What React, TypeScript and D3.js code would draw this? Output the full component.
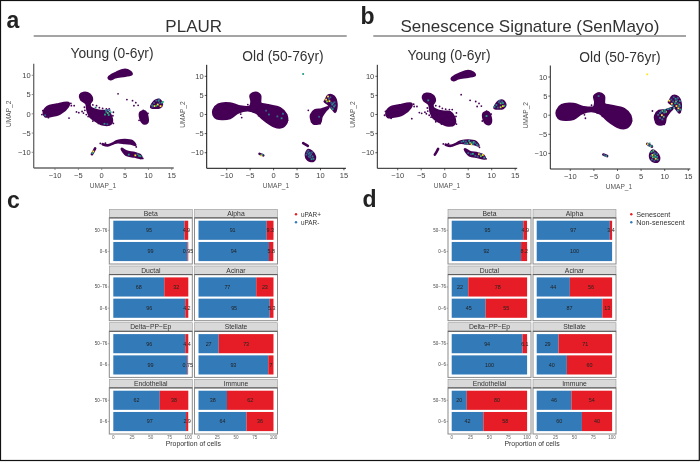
import React from "react";
import * as d3 from "d3";

type P = [number, number];
type C = [number, number, number];

// ---------- UMAP cluster outlines (UMAP_1, UMAP_2) ----------
const youngBlobs: P[][] = [
  [[1.5,9.4],[2.2,10.1],[3.2,10.7],[5,11.4],[6,11],[6.4,10.3],[5,9.9],[2.9,9.5],[1.9,9]],
  [[-12.4,0.2],[-11.7,1.7],[-9.6,2.4],[-7.1,2.8],[-7.3,1.8],[-8.9,0.1],[-11.1,-0.6],[-12.1,-0.6]],
  [[-4.6,4.8],[-3.9,5.4],[-2.6,5],[-2.1,3.6],[-2.6,2.6],[-2.4,1.6],[-1.4,1],[0,0.7],[1.1,0.6],[2,-0.7],[2,-2.5],[0.4,-2.8],[-1.3,-1.8],[-2.4,-0.8],[-2.9,0.4],[-3.1,1.4],[-3.3,2.7],[-4.4,3.7]],
  [[8.3,0.3],[9.2,0.6],[9.8,-1],[9.7,-2.3],[8.9,-2.4],[8.3,-1.2]],
  [[10.6,1.7],[11.4,3.3],[12.3,3.6],[12.9,2.5],[12.4,1.7],[11,1.6]],
  [[2.7,-7.5],[3.6,-7],[5,-6.8],[6.5,-7.1],[7.2,-8.1],[6.2,-7.7],[5,-7.6],[3.5,-7.4]],
  [[4.3,-9.1],[5.3,-9.8],[7,-10.2],[8.2,-10.7],[8.5,-11.5],[7,-11.1],[5.3,-10.7]],
];
const youngTrails: P[][] = [
  [[0.2,-7.9],[1.3,-8.2],[2.4,-7.7],[3.2,-7.3]],
  [[-2.1,-10.5],[-1.7,-9.7],[-1.4,-9]],
];
const youngStrays: P[] = [
  [3.5,5.2],[5.4,3.7],[6.6,3.4],[7.3,2.9],[6.9,2.1],[7.8,2.2],[-5.9,2.1],[-6.5,2.1],[-7,-1.1],[-4.9,0.3],[-3.9,0.2],[-5.4,0.5],
  [-3.7,1.7],[-1.9,2.3],[-1.1,2.1],[0.2,1.4],[2.4,-0.5],[2.5,-2.5],[-0.9,0.9],[-3.2,2.5],[8.9,0.9],
  [-3.6,0.9],[-4.2,0.6],[-3.3,-0.2],[-2.9,-0.7],[-1.9,-1.9],[-0.7,-2.5],[1.6,1.3],[2.5,0.4],[-2,1.3],[-0.5,1.6],[1,1.3],
  [-12.8,-0.2],[-12.6,0.8],[-11.4,-1],[-6.6,2.7],[9.9,0.1],[8,-1.7],[7.4,-8.6],[0.8,-7.6],[-0.3,-7.7],[8.8,-11.6],
];
const oldBlobs: P[][] = [
  [[-12.8,1.2],[-11.8,2.6],[-9.3,2.9],[-7.2,2.1],[-5,2.1],[-4.7,3.4],[-4.9,5],[-3.8,5.7],[-2.9,5],[-2.8,2.9],[-1.5,2.5],[1.4,1.6],[2.7,-0.1],[2.8,-1.9],[1.7,-3.3],[0,-3],[-2.2,-1.2],[-3.6,0.4],[-5.5,1.1],[-7.6,0.5],[-9.3,-0.9],[-12.1,-1],[-12.8,-0.1]],
  [[8,-0.1],[8.8,1.1],[10.2,1.3],[11.7,1.9],[11,0.9],[10.2,-0.6],[9.9,-2.1],[8.5,-2.3],[8,-1]],
  [[11,3.5],[11.7,5],[12.8,4.7],[13.4,2.7],[13.1,0.7],[12.7,1.3],[11.7,2.7],[10.9,3.4]],
  [[6.9,-10.6],[7.4,-9.3],[8.1,-9.7],[8.8,-11],[8.5,-12.1],[7.4,-11.9]],
];
const oldTrails: P[][] = [
  [[6.3,-7.5],[7.3,-8.2]],
  [[-3,-10.3],[-2.2,-10.7]],
];
const oldStrays: P[] = [[-6.8,-0.8],[-7,0.1],[-3.6,1.5],[-5.5,2.6],[-2.4,1.5],[3,-1.5],[-1.8,-0.1],[-4.3,0.6],[-3.2,-0.3],[-0.8,-2.2],[8.1,-1.9],[9.9,-2.4],[7.4,1.1]];

// ---------- expression-coloured cells (UMAP_1, UMAP_2, scaled expression) ----------
const plaurYoung: C[] = [
  [10.8,2.2,0.45],[11.2,2.8,0.3],[11.3,2,1],[11.7,3.4,0.3],[12,2.4,1],[12.2,3.4,0.6],[12.4,2.8,0.3],[12.6,2,1],[12.9,2.9,0.6],[13.1,3.1,0.65],[11.7,2.1,0.6],[12.3,3.7,0.3],[10.9,1.9,0.3],
  [1,0.5,0.5],[1.3,1,0.3],[1.5,-0.3,0.6],[1.9,0.4,0.55],[0.7,-0.2,0.6],[1.7,0.9,0.3],[-1.3,1.6,0.4],[0.6,-2.6,0.5],[1.2,-2.7,0.3],[-12.1,-0.4,0.35],[0.9,0.9,0.4],[1.3,0.2,0.7],
  [7.2,-10.8,1],[8,-10.9,0.6],[8.3,-11,0.55],[5.8,-10.6,0.55],[7.7,-10.5,0.35],[-1.8,-9.8,1],[-2,-10.2,0.6],
];
const plaurOld: C[] = [
  [6.3,10.6,0.55],[-2.6,-10.7,1],[-2.4,-10.5,0.55],
  [11.6,4.7,1],[11.2,3.9,1],[11.9,3.5,1],[11.4,3.4,0.8],[12.1,4.5,0.3],[12.5,2.6,0.5],[12.9,2.1,0.55],[12.3,1.8,0.35],[13,3.2,0.3],[11.8,4.1,0.3],[12.6,1.4,0.55],[12.3,3.1,0.3],[12.7,2.9,0.4],[13.1,2.4,0.3],
  [7.4,-9.5,0.3],[7.7,-10,0.4],[8,-10.4,0.3],[7.5,-11,0.35],[8.3,-11,0.5],[8.1,-11.7,0.5],[7.8,-11.2,0.3],[7,-10.5,0.35],[8.5,-11.6,0.45],[7.5,-10.3,0.4],[8.2,-9.9,0.3],[7.2,-9.9,0.3],[7.8,-10.7,0.35],
  [-1,0,0.4],[1.7,-1,0.5],[2,0.2,0.4],[0.8,-0.5,0.35],[-1.6,1,0.3],[9.7,-0.6,0.3],
];
const senYoung: C[] = [
  [-3.5,3.7,0.5],[8.9,-0.4,0.6],
  [10.6,2,0.45],[11,2.5,0.5],[11.5,3.2,0.3],[11.9,2.9,0.7],[12.2,3.4,0.3],[12.4,2.2,1],[12.7,2.3,0.6],[11.9,1.9,0.9],[11.3,1.8,0.3],[12.4,3,0.55],[11.7,3.6,0.3],
  [3.6,-7.2,0.3],[4,-7,0.55],[4.5,-7.1,0.3],[4.8,-7.6,0.6],[5.2,-6.9,0.55],[5.4,-7.4,0.75],[5.8,-7.3,0.3],[6.2,-7.2,0.65],[6.5,-7.5,0.3],[6.9,-7.9,0.6],[7,-8.1,0.3],[5.7,-7.8,1],[4.3,-7.6,0.3],[6,-7.7,0.45],
  [5,-10.1,0.3],[6,-10.3,0.6],[6.5,-10.8,0.3],[7.3,-10.4,1],[7.7,-10.9,0.75],[8.1,-10.6,1],[8.4,-11.3,0.55],[7,-11,0.3],[7.6,-10.4,0.3],[5.6,-10.4,0.3],
];
const senOld: C[] = [
  [6.3,10.7,1],[-2.4,-10.7,0.6],[-2.8,-10.4,0.3],[-4,5,0.4],
  [11,3.8,1],[11.5,3,1],[11.9,4.7,0.3],[12.3,4.3,0.55],[12.8,4.5,0.3],[13.2,3.7,0.5],[13.1,2.8,0.7],[12.5,2.4,1],[12.9,1.8,1],[13.3,1.5,0.6],[11.7,2.5,0.5],[12.2,3.1,0.55],[11.4,4.1,0.3],[12.4,3.6,0.75],[13.3,2.4,0.3],[12,1.9,0.6],[12.7,3.1,0.35],[12.6,3.9,0.3],[13,2.3,0.4],[12.8,1.2,0.5],[11.8,3.6,0.3],
  [10,1.4,0.6],[10.7,1.6,0.5],[9.5,1.1,0.7],[9,0.6,0.45],[9.9,0.7,0.55],[9.4,0,1],[9.8,-0.4,0.7],[9,-0.7,0.4],[8.6,0.1,0.35],[10.3,0.9,0.8],[9.5,-1.1,0.35],[11.2,1.7,0.55],[9.2,0.9,0.3],[10.1,1,0.35],
  [6.4,-7.6,1],[6.8,-7.4,0.5],[7,-8.1,0.7],[6.6,-7.9,0.3],[7.3,-8,0.35],
  [7.2,-9.6,0.6],[7.6,-9.3,0.7],[7.9,-9.9,0.3],[7.4,-10.4,1],[8,-10.6,0.7],[8.4,-10.9,0.55],[7.5,-11,0.75],[7.1,-10.7,0.35],[8.1,-11.4,1],[8.5,-11.6,0.6],[7.8,-11.9,0.3],[7.7,-10.2,0.5],[8.4,-10.2,0.35],[7.9,-11,0.5],[7.3,-11.6,0.4],
];

// ---------- stacked bars ----------
const cellTypes = ["Beta","Alpha","Ductal","Acinar","Delta−PP−Ep","Stellate","Endothelial","Immune"];
const ageGroups = ["50−76","0−6"];
const uparNeg = [[95,99],[91,94],[68,96],[77,95],[96,99],[27,93],[62,97],[38,64]];
const uparPos = [[4.9,0.95],[9.3,5.8],[32,4.2],[23,5.3],[4.4,0.75],[73,7],[38,2.9],[62,36]];
const nonSen = [[95,92],[97,100],[22,45],[44,87],[94,100],[29,40],[20,42],[46,60]];
const sen = [[4.9,8.2],[3.4,0],[78,55],[56,13],[6.1,0],[71,60],[80,58],[54,40]];
const umapXTicks = [-10,-5,0,5,10,15];
const umapYTicks = [-10,-5,0,5,10];
const propTicks = [0,25,50,75,100];

const FONT = "'Liberation Sans', Arial, sans-serif";
const PURPLE = "#440154";
const BLUE = "#337ab8";
const RED = "#e61f26";

function viridis(v: number) {
  return d3.interpolateViridis(v);
}

function Umap(props: {
  axisX: number; xZero: number; xUnit: number; axisY: number; yZero: number; yUnit: number;
  blobs: P[][]; trails: P[][]; strays: P[]; cells: C[];
  title: string; titleX: number; titleY: number; xLabelX: number; yLabelX: number; axisColor: string; axisWidth: number;
}) {
  const { axisX, xZero, xUnit, axisY, yZero, yUnit } = props;
  const x = d3.scaleLinear().domain([0, 15]).range([xZero, xZero + 15 * xUnit]);
  const y = d3.scaleLinear().domain([0, 10]).range([yZero, yZero - 10 * yUnit]);
  const closed = d3.line<P>().x(d => x(d[0])).y(d => y(d[1])).curve(d3.curveCatmullRomClosed.alpha(0.5));
  const open = d3.line<P>().x(d => x(d[0])).y(d => y(d[1])).curve(d3.curveCatmullRom.alpha(0.5));
  const right = x(15) + 2;
  const top = y(13);
  return (
    <g fontFamily={FONT}>
      <text x={props.titleX} y={props.titleY} fontSize={13.8} textAnchor="middle" fill="#333">{props.title}</text>
      {props.blobs.map((b, i) => <path key={i} d={closed(b) || ""} fill={PURPLE} stroke={PURPLE} strokeWidth={2.6} strokeLinejoin="round" />)}
      {props.trails.map((t, i) => <path key={i} d={open(t) || ""} fill="none" stroke={PURPLE} strokeWidth={2.6} strokeLinecap="round" />)}
      {props.strays.map((s, i) => <circle key={i} cx={x(s[0])} cy={y(s[1])} r={0.9} fill={PURPLE} />)}
      {props.cells.map((c, i) => <rect key={i} x={x(c[0]) - 0.9} y={y(c[1]) - 0.9} width={1.8} height={1.8} fill={viridis(c[2])} />)}
      <line x1={axisX} x2={axisX} y1={top} y2={axisY} stroke={props.axisColor} strokeWidth={props.axisWidth} />
      <line x1={axisX} x2={right} y1={axisY} y2={axisY} stroke={props.axisColor} strokeWidth={props.axisWidth} />
      {umapXTicks.map(t => (
        <g key={t}>
          <line x1={x(t)} x2={x(t)} y1={axisY} y2={axisY + 2} stroke={props.axisColor} strokeWidth={0.7} />
          <text x={x(t)} y={axisY + 10} fontSize={7.5} textAnchor="middle" fill="#444">{t < 0 ? "−" + -t : t}</text>
        </g>
      ))}
      {umapYTicks.map(t => (
        <g key={t}>
          <line x1={axisX - 2} x2={axisX} y1={y(t)} y2={y(t)} stroke={props.axisColor} strokeWidth={0.7} />
          <text x={axisX - 3} y={y(t) + 2.7} fontSize={7.5} textAnchor="end" fill="#444">{t < 0 ? "−" + -t : t}</text>
        </g>
      ))}
      <text x={props.xLabelX} y={axisY + 20} fontSize={6.6} textAnchor="middle" fill="#555">UMAP_1</text>
      <text transform={`translate(${props.yLabelX},${yZero}) rotate(-90)`} fontSize={6.6} textAnchor="middle" fill="#555">UMAP_2</text>
    </g>
  );
}

function Bars(props: {
  colLeft: number[]; colWidth: number; zeroOffset: number; barLength: number;
  neg: number[][]; pos: number[][];
  legend: string[]; legendDotX: number; xTitleX: number; legendSize: number;
}) {
  const rowTop = [209.3, 266, 322.7, 379.3];
  const stripH = 8.6;
  const panelH = 54.7;
  const band = d3.scaleBand<string>().domain(ageGroups).range([2.8, 43.2]).paddingInner(0.1).paddingOuter(0);
  return (
    <g fontFamily={FONT}>
      {cellTypes.map((name, i) => {
        const col = i % 2;
        const row = Math.floor(i / 2);
        const left = props.colLeft[col];
        const top = rowTop[row];
        const x = d3.scaleLinear().domain([0, 100]).range([left + props.zeroOffset, left + props.zeroOffset + props.barLength]);
        return (
          <g key={name}>
            <rect x={left} y={top} width={props.colWidth} height={stripH} fill="#d9d9d9" stroke="#9a9a9a" strokeWidth={0.6} />
            <rect x={left} y={top + stripH} width={props.colWidth} height={panelH - stripH} fill="#fff" stroke="#8a8a8a" strokeWidth={1} />
            <line x1={left} x2={left + props.colWidth} y1={top + stripH} y2={top + stripH} stroke="#555" strokeWidth={0.9} />
            <text x={left + props.colWidth / 2} y={top + 6.6} fontSize={6.8} textAnchor="middle" fill="#333">{name}</text>
            {ageGroups.map((g, k) => {
              const by = top + stripH + (band(g) as number);
              const bh = band.bandwidth();
              const n = props.neg[i][k];
              const p = props.pos[i][k];
              return (
                <g key={g}>
                  <rect x={x(0)} y={by} width={x(n) - x(0)} height={bh} fill={BLUE} />
                  {p > 0 && <rect x={x(n)} y={by} width={x(Math.min(100, n + p)) - x(n)} height={bh} fill={RED} />}
                  <text x={x(n / 2)} y={by + bh / 2 + 1.9} fontSize={5.4} textAnchor="middle" fill="#222">{n}</text>
                  {p > 0 && <text x={x(n + p / 2)} y={by + bh / 2 + 1.9} fontSize={5.4} textAnchor="middle" fill="#222">{p}</text>}
                  {col === 0 && <text x={left - 2} y={by + bh / 2 + 1.5} fontSize={4.5} textAnchor="end" fill="#444">{g}</text>}
                  {col === 0 && <line x1={left - 1.6} x2={left} y1={by + bh / 2} y2={by + bh / 2} stroke="#555" strokeWidth={0.4} />}
                </g>
              );
            })}
            {row === 3 && propTicks.map(t => (
              <text key={t} x={x(t)} y={439} fontSize={4.6} textAnchor="middle" fill="#666">{t}</text>
            ))}
          </g>
        );
      })}
      <text x={props.xTitleX} y={446} fontSize={6.9} textAnchor="middle" fill="#333">Proportion of cells</text>
      {props.legend.map((l, i) => (
        <g key={l}>
          <circle cx={props.legendDotX} cy={214.3 + i * 8} r={1.2} fill={i === 0 ? RED : BLUE} />
          <text x={props.legendDotX + 5} y={216.6 + i * 8} fontSize={props.legendSize} fill="#333">{l}</text>
        </g>
      ))}
    </g>
  );
}

export default function App() {
  return (
    <svg width={700} height={462} viewBox="0 0 700 462" style={{ position: "absolute", left: 0, top: 0, background: "#fff", display: "block" }}>
      <defs>
        <filter id="soft" x="0" y="0" width="100%" height="100%">
          <feGaussianBlur stdDeviation="0.3" />
        </filter>
      </defs>
      <g filter="url(#soft)">
        <g fontFamily={FONT} fill="#222">
          <text x={193.7} y={32} fontSize={17} textAnchor="middle" fill="#333">PLAUR</text>
          <text x={530} y={32} fontSize={17} textAnchor="middle" fill="#333">Senescence Signature (SenMayo)</text>
          <text x={6.5} y={28} fontSize={23} fontWeight="bold">a</text>
          <text x={360.5} y={23.5} fontSize={23} fontWeight="bold">b</text>
          <text x={7} y={208} fontSize={23} fontWeight="bold">c</text>
          <text x={362.5} y={207} fontSize={23} fontWeight="bold">d</text>
        </g>
        <line x1={33.7} x2={346.7} y1={36} y2={36} stroke="#333" strokeWidth={0.9} />
        <line x1={373.3} x2={686} y1={36} y2={36} stroke="#333" strokeWidth={0.9} />

        <Umap axisX={33.7} xZero={101.7} xUnit={4.67} axisY={168} yZero={113.8} yUnit={3.85} blobs={youngBlobs} trails={youngTrails} strays={youngStrays} cells={plaurYoung}
          title="Young (0-6yr)" titleX={112} titleY={58} xLabelX={103} yLabelX={11} axisColor="#666" axisWidth={1.3} />
        <Umap axisX={206.7} xZero={273.6} xUnit={4.69} axisY={168.3} yZero={114.5} yUnit={3.82} blobs={oldBlobs} trails={oldTrails} strays={oldStrays} cells={plaurOld}
          title="Old (50-76yr)" titleX={283} titleY={61} xLabelX={276} yLabelX={185} axisColor="#111" axisWidth={1} />
        <Umap axisX={377.3} xZero={444.7} xUnit={4.7} axisY={168.3} yZero={114.5} yUnit={3.82} blobs={youngBlobs} trails={youngTrails} strays={youngStrays} cells={senYoung}
          title="Young (0-6yr)" titleX={449} titleY={59.5} xLabelX={447} yLabelX={355} axisColor="#222" axisWidth={1} />
        <Umap axisX={550.3} xZero={617.5} xUnit={4.72} axisY={169} yZero={115.2} yUnit={3.82} blobs={oldBlobs} trails={oldTrails} strays={oldStrays} cells={senOld}
          title="Old (50-76yr)" titleX={620} titleY={62} xLabelX={619} yLabelX={528} axisColor="#222" axisWidth={1} />

        <Bars colLeft={[109.3, 194.5]} colWidth={83} zeroOffset={4} barLength={75} neg={uparNeg} pos={uparPos}
          legend={["uPAR+", "uPAR-"]} legendDotX={296} xTitleX={193.3} legendSize={6.4} />
        <Bars colLeft={[448, 533]} colWidth={83} zeroOffset={3.7} barLength={75.4} neg={nonSen} pos={sen}
          legend={["Senescent", "Non-senescent"]} legendDotX={631.3} xTitleX={532} legendSize={7.2} />
      </g>
      <rect x={0.5} y={0.5} width={698.8} height={460} fill="none" stroke="#111" strokeWidth={1.2} />
    </svg>
  );
}
